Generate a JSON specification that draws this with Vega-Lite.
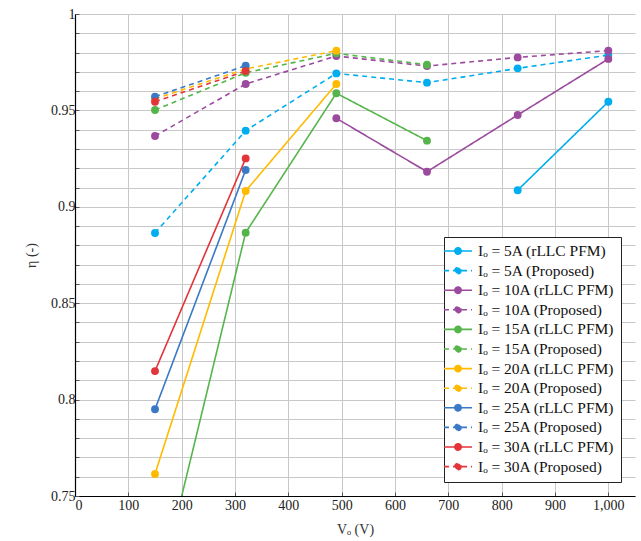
{
  "$schema": "https://vega.github.io/schema/vega-lite/v6.json",
  "autosize": "none",
  "width": 560,
  "height": 482,
  "padding": {"left": 75, "top": 14, "right": 6, "bottom": 45},
  "background": "white",
  "config": {
    "font": "Liberation Serif",
    "view": {"stroke": null}
  },
  "data": {"values": [
    {"s": "Iₒ = 5A (rLLC PFM)", "v": 830, "eta": 0.9086},
    {"s": "Iₒ = 5A (rLLC PFM)", "v": 1000, "eta": 0.9545},
    {"s": "Iₒ = 5A (Proposed)", "v": 150, "eta": 0.8864},
    {"s": "Iₒ = 5A (Proposed)", "v": 320, "eta": 0.9395},
    {"s": "Iₒ = 5A (Proposed)", "v": 490, "eta": 0.9692},
    {"s": "Iₒ = 5A (Proposed)", "v": 660, "eta": 0.9644},
    {"s": "Iₒ = 5A (Proposed)", "v": 830, "eta": 0.9718},
    {"s": "Iₒ = 5A (Proposed)", "v": 1000, "eta": 0.9787},
    {"s": "Iₒ = 10A (rLLC PFM)", "v": 490, "eta": 0.9459},
    {"s": "Iₒ = 10A (rLLC PFM)", "v": 660, "eta": 0.9182},
    {"s": "Iₒ = 10A (rLLC PFM)", "v": 830, "eta": 0.9476},
    {"s": "Iₒ = 10A (rLLC PFM)", "v": 1000, "eta": 0.9767},
    {"s": "Iₒ = 10A (Proposed)", "v": 150, "eta": 0.9367},
    {"s": "Iₒ = 10A (Proposed)", "v": 320, "eta": 0.9637},
    {"s": "Iₒ = 10A (Proposed)", "v": 490, "eta": 0.9782},
    {"s": "Iₒ = 10A (Proposed)", "v": 660, "eta": 0.973},
    {"s": "Iₒ = 10A (Proposed)", "v": 830, "eta": 0.9775},
    {"s": "Iₒ = 10A (Proposed)", "v": 1000, "eta": 0.981},
    {"s": "Iₒ = 15A (rLLC PFM)", "v": 150, "eta": 0.693},
    {"s": "Iₒ = 15A (rLLC PFM)", "v": 320, "eta": 0.8866},
    {"s": "Iₒ = 15A (rLLC PFM)", "v": 490, "eta": 0.9589},
    {"s": "Iₒ = 15A (rLLC PFM)", "v": 660, "eta": 0.9343},
    {"s": "Iₒ = 15A (Proposed)", "v": 150, "eta": 0.9502},
    {"s": "Iₒ = 15A (Proposed)", "v": 320, "eta": 0.9695},
    {"s": "Iₒ = 15A (Proposed)", "v": 490, "eta": 0.9796},
    {"s": "Iₒ = 15A (Proposed)", "v": 660, "eta": 0.9737},
    {"s": "Iₒ = 20A (rLLC PFM)", "v": 150, "eta": 0.7614},
    {"s": "Iₒ = 20A (rLLC PFM)", "v": 320, "eta": 0.9082},
    {"s": "Iₒ = 20A (rLLC PFM)", "v": 490, "eta": 0.9637},
    {"s": "Iₒ = 20A (Proposed)", "v": 150, "eta": 0.956},
    {"s": "Iₒ = 20A (Proposed)", "v": 320, "eta": 0.9715},
    {"s": "Iₒ = 20A (Proposed)", "v": 490, "eta": 0.981},
    {"s": "Iₒ = 25A (rLLC PFM)", "v": 150, "eta": 0.795},
    {"s": "Iₒ = 25A (rLLC PFM)", "v": 320, "eta": 0.9191},
    {"s": "Iₒ = 25A (Proposed)", "v": 150, "eta": 0.9571},
    {"s": "Iₒ = 25A (Proposed)", "v": 320, "eta": 0.9732},
    {"s": "Iₒ = 30A (rLLC PFM)", "v": 150, "eta": 0.8148},
    {"s": "Iₒ = 30A (rLLC PFM)", "v": 320, "eta": 0.9251},
    {"s": "Iₒ = 30A (Proposed)", "v": 150, "eta": 0.9545},
    {"s": "Iₒ = 30A (Proposed)", "v": 320, "eta": 0.9704}
  ]},
  "encoding": {
    "x": {
      "field": "v", "type": "quantitative",
      "scale": {"domain": [0, 1050], "nice": false},
      "axis": {
        "title": "Vₒ (V)", "values": [0,100,200,300,400,500,600,700,800,900,1000],
        "format": ",d", "grid": true, "gridColor": "#c8c8c8", "gridWidth": 1,
        "domainColor": "black", "domainWidth": 1.2, "tickColor": "#555", "tickSize": -4,
        "labelFont": "Liberation Serif", "labelFontSize": 14, "labelColor": "#222", "labelPadding": 6,
        "titleFont": "Liberation Serif", "titleFontSize": 14, "titleFontWeight": "normal", "titleColor": "#333", "titlePadding": 10
      }
    },
    "y": {
      "field": "eta", "type": "quantitative",
      "scale": {"domain": [0.75, 1], "nice": false, "zero": false},
      "axis": {
        "title": "η (-)",
        "values": [0.75,0.76,0.77,0.78,0.79,0.8,0.81,0.82,0.83,0.84,0.85,0.86,0.87,0.88,0.89,0.9,0.91,0.92,0.93,0.94,0.95,0.96,0.97,0.98,0.99,1],
        "labelExpr": "abs(round(datum.value*100) % 5) == 0 ? format(datum.value, '') : ''",
        "grid": true, "gridColor": "#c8c8c8", "gridWidth": 1,
        "domainColor": "black", "domainWidth": 1.2, "tickColor": "#555", "tickSize": -4,
        "labelFont": "Liberation Serif", "labelFontSize": 14, "labelColor": "#222", "labelPadding": 4,
        "titleFont": "Liberation Serif", "titleFontSize": 14, "titleFontWeight": "normal", "titleColor": "#333", "titlePadding": 12
      }
    },
    "color": {
      "field": "s", "type": "nominal",
      "scale": {
        "domain": ["Iₒ = 5A (rLLC PFM)", "Iₒ = 5A (Proposed)", "Iₒ = 10A (rLLC PFM)", "Iₒ = 10A (Proposed)", "Iₒ = 15A (rLLC PFM)", "Iₒ = 15A (Proposed)", "Iₒ = 20A (rLLC PFM)", "Iₒ = 20A (Proposed)", "Iₒ = 25A (rLLC PFM)", "Iₒ = 25A (Proposed)", "Iₒ = 30A (rLLC PFM)", "Iₒ = 30A (Proposed)"],
        "range": ["#00aeef", "#00aeef", "#9b4a9e", "#9b4a9e", "#55b54a", "#55b54a", "#ffba00", "#ffba00", "#3a79c6", "#3a79c6", "#e3343a", "#e3343a"]
      },
      "legend": {
        "title": null,
        "orient": "bottom-right",
        "offset": 14,
        "strokeColor": "#222",
        "fillColor": "white",
        "padding": 6,
        "rowPadding": 2.6,
        "labelFont": "Liberation Serif",
        "labelFontSize": 15.5,
        "labelColor": "#111",
        "labelOffset": 12,
        "labelLimit": 300,
        "symbolType": "M-2,0L2,0M0.45,0A0.45,0.45,0,1,1,-0.45,0A0.45,0.45,0,1,1,0.45,0Z",
        "symbolSize": 196,
        "symbolStrokeWidth": 1.6,
        "encode": {"symbols": {"update": {"fill": {"scale": "color", "field": "value"}}}}
      }
    }
  },
  "layer": [
    {
      "mark": {"type": "line", "clip": true, "strokeWidth": 1.6},
      "encoding": {
        "order": {"field": "v", "type": "quantitative"},
        "strokeDash": {
          "field": "s", "type": "nominal",
          "scale": {
            "domain": ["Iₒ = 5A (rLLC PFM)", "Iₒ = 5A (Proposed)", "Iₒ = 10A (rLLC PFM)", "Iₒ = 10A (Proposed)", "Iₒ = 15A (rLLC PFM)", "Iₒ = 15A (Proposed)", "Iₒ = 20A (rLLC PFM)", "Iₒ = 20A (Proposed)", "Iₒ = 25A (rLLC PFM)", "Iₒ = 25A (Proposed)", "Iₒ = 30A (rLLC PFM)", "Iₒ = 30A (Proposed)"],
            "range": [[1,0],[5,4],[1,0],[5,4],[1,0],[5,4],[1,0],[5,4],[1,0],[5,4],[1,0],[5,4]]
          }
        }
      }
    },
    {
      "mark": {"type": "circle", "clip": true, "size": 62, "opacity": 1}
    }
  ]
}
